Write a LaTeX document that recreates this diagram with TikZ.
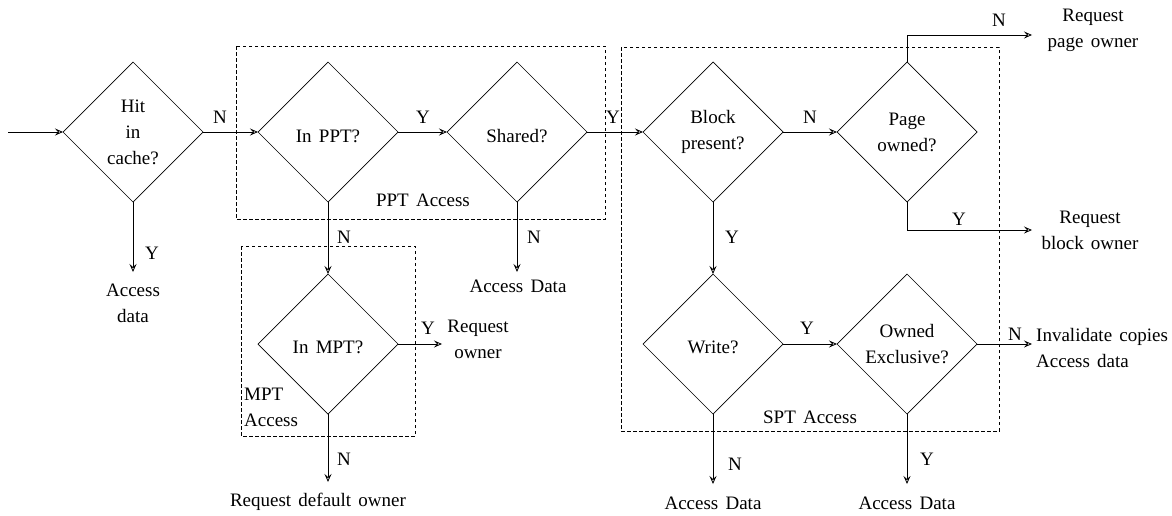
\documentclass[tikz,border=0pt]{standalone}
\usepackage{fontspec}
\setmainfont{Liberation Serif}
\usetikzlibrary{shapes.geometric,arrows.meta}
\newcommand\labelfont{\fontsize{19}{26}\selectfont\spaceskip 0.38em plus 0.1em\relax}
\begin{document}
\begin{tikzpicture}[x=1pt,y=-1pt,
  every node/.style={font=\labelfont, inner sep=0pt},
  dia/.style={draw, shape=diamond, minimum width=140pt, minimum height=140pt, inner sep=0pt, outer sep=0pt, line width=0.7pt},
  txt/.style={align=center},
  flow/.style={line width=0.8pt, -{Stealth[open, length=8pt, width=7pt, inset=3pt]}},
  grp/.style={draw, dash pattern=on 3.5pt off 2.5pt, line width=0.7pt}]
\useasboundingbox (0,0) rectangle (1172,515);

% group frames
\draw[grp] (236,46) rectangle (605,219);
\draw[grp] (241,246) rectangle (415,436);
\draw[grp] (621,47) rectangle (999,431);
\node (pptlbl) at (423,200) {PPT Access};
\node (sptlbl) at (810,417) {SPT Access};
\node[align=left, anchor=west] (mptlbl) at (244,407) {MPT\\Access};

% decisions
\node[dia, label={[txt]center:Hit\\in\\cache?}] (hit) at (133,132) {};
\node[dia, label={[txt,yshift=-4pt]center:In PPT?}] (ppt) at (328,132) {};
\node[dia, label={[txt,yshift=-4pt]center:Shared?}] (sh) at (517,132) {};
\node[dia, label={[txt]center:Block\\present?}] (blk) at (713,132) {};
\node[dia, label={[txt]center:Page\\owned?}] (pg) at (907,132) {};
\node[dia, label={[txt,yshift=-3pt]center:In MPT?}] (mpt) at (328,344) {};
\node[dia, label={[txt,yshift=-3pt]center:Write?}] (wr) at (713,344) {};
\node[dia, label={[txt]center:Owned\\Exclusive?}] (own) at (907,344) {};

% outcomes
\node[txt] (hitY) at (133,303) {Access\\data};
\node[txt] (shN) at (518,286) {Access Data};
\node[txt] (mptY) at (478,339) {Request\\owner};
\node[txt] (mptN) at (318,502) {Request default owner};
\node[txt] (pgN) at (1093,30) {Request\\page owner};
\node[txt] (pgY) at (1090,230) {Request\\block owner};
\node[align=left, anchor=west] (ownN) at (1036,348) {Invalidate copies\\Access data};
\node[txt] (wrN) at (713,503) {Access Data};
\node[txt] (ownY) at (907,503) {Access Data};

% connector ends
\coordinate (start) at (8,132);
\coordinate (hitYe) at (133,272);
\coordinate (shNe) at (517,272);
\coordinate (mptYe) at (442,344);
\coordinate (mptNe) at (328,482);
\coordinate (pgNe) at (1032,35);
\coordinate (pgYe) at (1032,230);
\coordinate (ownNe) at (1032,344);
\coordinate (wrNe) at (713,484);
\coordinate (ownYe) at (907,484);

% connectors
\draw[flow] (start) -- (hit.west);
\draw[flow] (hit.east) -- (ppt.west);
\draw[flow] (hit.south) -- (hitYe);
\draw[flow] (ppt.east) -- (sh.west);
\draw[flow] (ppt.south) -- (mpt.north);
\draw[flow] (sh.east) -- (blk.west);
\draw[flow] (sh.south) -- (shNe);
\draw[flow] (mpt.east) -- (mptYe);
\draw[flow] (mpt.south) -- (mptNe);
\draw[flow] (blk.east) -- (pg.west);
\draw[flow] (blk.south) -- (wr.north);
\draw[flow] (pg.north) |- (pgNe);
\draw[flow] (pg.south) |- (pgYe);
\draw[flow] (wr.east) -- (own.west);
\draw[flow] (wr.south) -- (wrNe);
\draw[flow] (own.east) -- (ownNe);
\draw[flow] (own.south) -- (ownYe);

% branch labels
\node (l1) at (220,117) {N};
\node (l2) at (152,253) {Y};
\node (l3) at (423,117) {Y};
\node (l4) at (613,117) {Y};
\node (l5) at (534,237) {N};
\node (l6) at (344,237) {N};
\node (l7) at (428,328) {Y};
\node (l8) at (344,459) {N};
\node (l9) at (810,117) {N};
\node (l10) at (732,237) {Y};
\node (l11) at (999,20) {N};
\node (l12) at (959,219) {Y};
\node (l13) at (807,328) {Y};
\node (l14) at (1015,334) {N};
\node (l15) at (735,464) {N};
\node (l16) at (927,459) {Y};
\end{tikzpicture}
\end{document}
